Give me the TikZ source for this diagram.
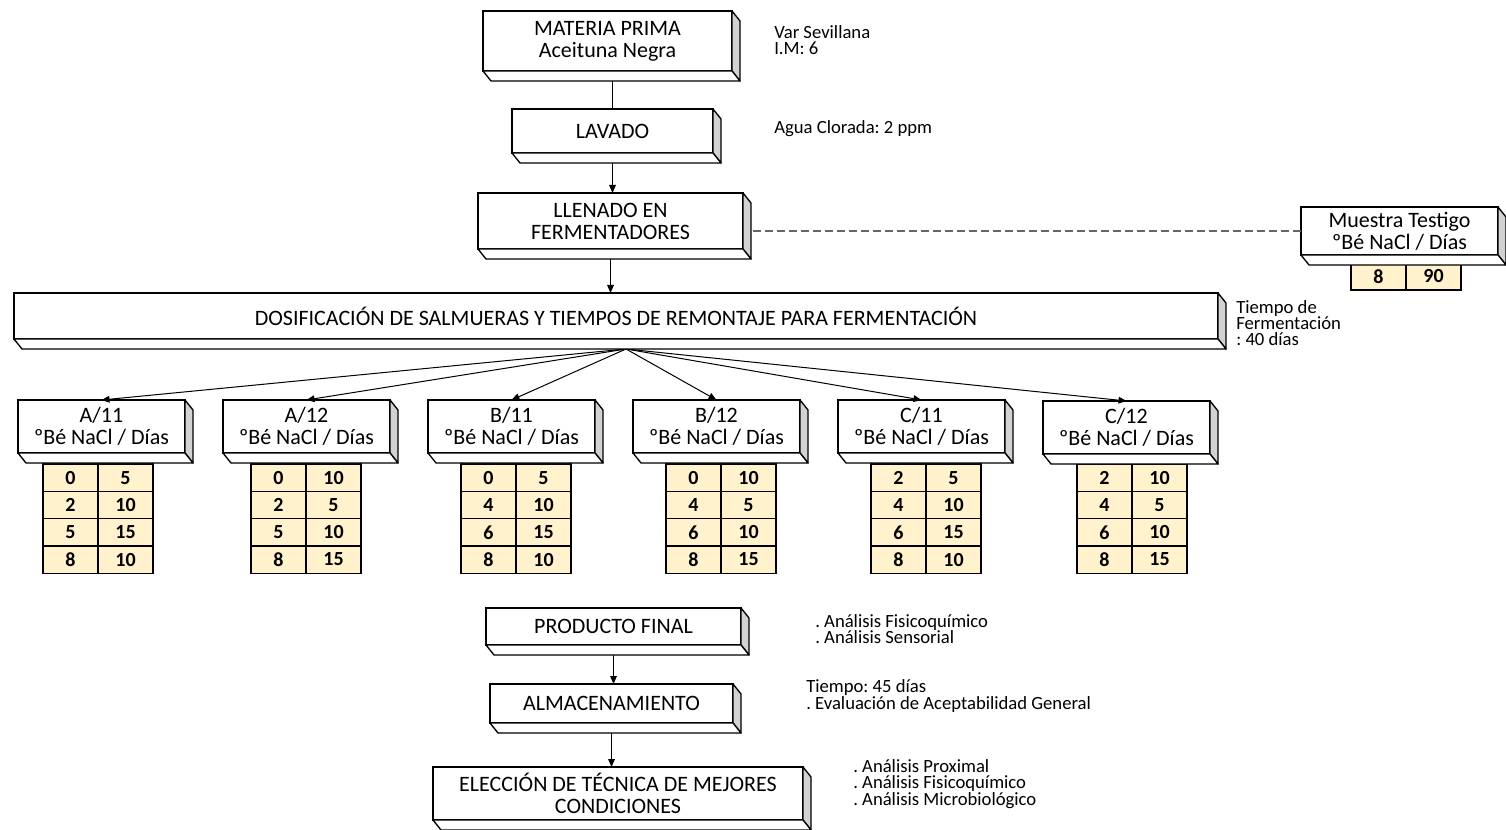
\documentclass[tikz,border=0pt]{standalone}
\usepackage{fontspec}
\setmainfont[Numbers=Lining]{Carlito}
\frenchspacing
\usetikzlibrary{arrows.meta}
\usetikzlibrary{positioning}
\definecolor{crema}{RGB}{255,242,204}
\tikzset{
    caja/.style={
           draw, line width=1.2pt,
           fill=white,
           outer sep=0pt, inner sep=2pt,
           align=center,
           font=\fontsize{16.5}{16.5}\selectfont,
           },
}
\tikzset{
    cara/.style={
           draw, line width=1pt,
           line join=round,
           },
}
\tikzset{
    celda/.style={
           draw, line width=1pt,
           fill=crema,
           minimum width=41.25pt, minimum height=20.5pt,
           inner sep=0pt, outer sep=0pt,
           font=\fontsize{15}{15}\selectfont\bfseries,
           },
}
\tikzset{
    nota/.style={
           anchor=west, align=left,
           inner sep=0pt,
           font=\fontsize{14}{12.3}\selectfont,
           },
}
\tikzset{
    flecha/.style={
           -{Triangle[length=6pt,width=5pt]},
           line width=0.75pt,
           },
}

\begin{document}
\begin{tikzpicture}[x=0.75pt,y=-0.75pt]
\useasboundingbox (0,0) rectangle (1506,830);
% cajas del proceso
\node[caja,minimum width=186.75pt,minimum height=45pt] (mp) at (607.5,41) {MATERIA PRIMA\\Aceituna Negra};
\node[caja,minimum width=150.75pt,minimum height=33pt] (lav) at (612.5,131) {LAVADO};
\node[caja,minimum width=198.75pt,minimum height=42pt] (llen) at (610.5,221) {LLENADO EN\\FERMENTADORES};
\node[caja,minimum width=147.75pt,minimum height=36pt] (muestra) at (1399.5,231) {Muestra Testigo\\ºBé NaCl / Días};
\node[caja,minimum width=903pt,minimum height=34.5pt] (dos) at (616,316) {DOSIFICACIÓN DE SALMUERAS Y TIEMPOS DE REMONTAJE PARA FERMENTACIÓN};
\node[caja,minimum width=125.25pt,minimum height=39.75pt] (a11) at (101.5,426.5) {A/11\\ºBé NaCl / Días};
\node[caja,minimum width=125.25pt,minimum height=39.75pt] (a12) at (306.5,426.5) {A/12\\ºBé NaCl / Días};
\node[caja,minimum width=125.25pt,minimum height=39.75pt] (b11) at (511.5,426.5) {B/11\\ºBé NaCl / Días};
\node[caja,minimum width=125.25pt,minimum height=39.75pt] (b12) at (716.5,426.5) {B/12\\ºBé NaCl / Días};
\node[caja,minimum width=125.25pt,minimum height=39.75pt] (c11) at (921.5,426.5) {C/11\\ºBé NaCl / Días};
\node[caja,minimum width=125.25pt,minimum height=39.75pt] (c12) at (1126.5,427.5) {C/12\\ºBé NaCl / Días};
\node[caja,minimum width=191.25pt,minimum height=27.75pt] (prod) at (613.5,626.5) {PRODUCTO FINAL};
\node[caja,minimum width=182.25pt,minimum height=29.25pt] (alm) at (611.5,703.5) {ALMACENAMIENTO};
\node[caja,minimum width=277.5pt,minimum height=39.75pt] (elec) at (618,793.5) {ELECCIÓN DE TÉCNICA DE MEJORES\\CONDICIONES};
% tablas
\node[celda] (mt-1) at (1378.5,276.5) {8};
\node[celda,right=0pt of mt-1] (mt-2) {90};
\foreach \t/\cx/\vals in {a11/98/{0/5,2/10,5/15,8/10},a12/306/{0/10,2/5,5/10,8/15},b11/516/{0/5,4/10,6/15,8/10},b12/721/{0/10,4/5,6/10,8/15},c11/926/{2/5,4/10,6/15,8/10},c12/1132/{2/10,4/5,6/10,8/15}}{
  \foreach \p/\q [count=\i] in \vals {
    \node[celda] (\t-\i-1) at ({\cx-27.5},{450.35+27.3*\i}) {\p};
    \node[celda,right=0pt of \t-\i-1] (\t-\i-2) {\q};
  }
}
% notas
\node[nota] (n1) at (774,40) {Var Sevillana\\I.M: 6};
\node[nota] (n2) at (774,129) {Agua Clorada: 2 ppm};
\node[nota] (n3) at (1236,323) {Tiempo de\\Fermentación\\: 40 días};
\node[nota] (n4) at (815,629) {. Análisis Fisicoquímico\\. Análisis Sensorial};
\node[nota] (n5) at (806,696) {Tiempo: 45 días\\. Evaluación de Aceptabilidad General};
\node[nota] (n6) at (853,784) {. Análisis Proximal\\. Análisis Fisicoquímico\\. Análisis Microbiológico};
% conectores
\draw[line width=0.75pt] (lav.north) -- (lav.north |- mp.south);
\draw[flecha] (lav.south) -- (lav.south |- llen.north);
\draw[flecha] (llen.south) -- (llen.south |- dos.north);
\draw[gray!80!black,line width=1.3pt,dash pattern=on 6pt off 3pt] (muestra.west) -- ([shift={(10,0)}]llen.east |- muestra.west);
\coordinate (o) at ([shift={(10,10)}]dos.south);
\foreach \n in {a11,a12,b11,b12,c11,c12}
  \draw[flecha] (o) -- (\n.north);
\draw[flecha] (prod.south) -- (prod.south |- alm.north);
\draw[flecha] (alm.south) -- (alm.south |- elec.north);
% caras de las cajas
\foreach \n in {mp,lav,llen,muestra,dos,a11,a12,b11,b12,c11,c12,prod,alm,elec}{
  \draw[cara,fill=gray!35] (\n.north east) -- ++(8,10) -- ([shift={(8,10)}]\n.south east) -- (\n.south east) -- cycle;
  \draw[cara,fill=white] (\n.south west) -- ++(8,10) -- ([shift={(8,10)}]\n.south east) -- (\n.south east) -- cycle;
}
\end{tikzpicture}
\end{document}
